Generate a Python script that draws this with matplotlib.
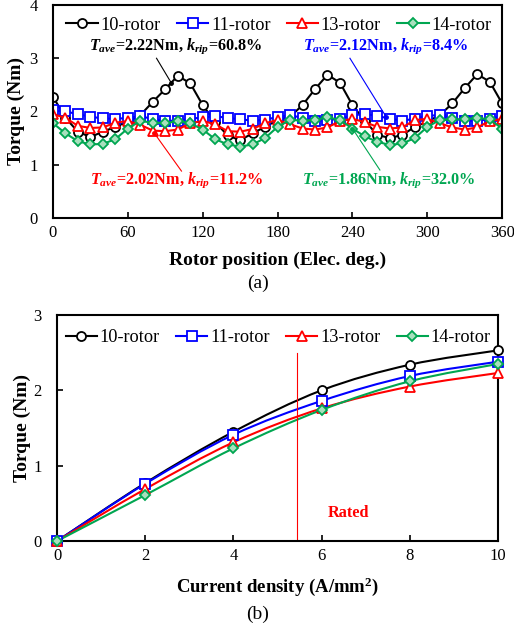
import numpy as np
import matplotlib
matplotlib.use("Agg")
import matplotlib.pyplot as plt
from matplotlib.path import Path
from matplotlib.patches import PathPatch
from matplotlib.lines import Line2D

plt.rcParams['font.family'] = 'Liberation Serif'
plt.rcParams['mathtext.fontset'] = 'custom'
plt.rcParams['mathtext.rm'] = 'Liberation Serif:bold'
plt.rcParams['mathtext.it'] = 'Liberation Serif:bold:italic'
plt.rcParams['mathtext.bf'] = 'Liberation Serif:bold'

# ---- data, panel (a): torque vs rotor position ----
position = list(range(0, 361, 10))
torque_10 = [2.28, 1.88, 1.62, 1.52, 1.62, 1.71, 1.81, 1.93, 2.18, 2.42, 2.67, 2.53, 2.12,
             1.80, 1.55, 1.46, 1.59, 1.71, 1.84, 1.90, 2.12, 2.42, 2.69, 2.54, 2.12,
             1.82, 1.56, 1.50, 1.56, 1.71, 1.81, 1.93, 2.15, 2.44, 2.70, 2.56, 2.15]
torque_11 = [2.02, 2.00, 1.95, 1.90, 1.87, 1.86, 1.88, 1.91, 1.86, 1.82, 1.83, 1.86, 1.89,
             1.91, 1.88, 1.85, 1.83, 1.84, 1.90, 1.93, 1.88, 1.82, 1.84, 1.86, 1.93,
             1.95, 1.92, 1.86, 1.83, 1.86, 1.92, 1.93, 1.88, 1.82, 1.83, 1.85, 1.92]
torque_13 = [1.95, 1.88, 1.73, 1.69, 1.70, 1.79, 1.82, 1.75, 1.64, 1.63, 1.66, 1.78, 1.82,
             1.76, 1.63, 1.62, 1.67, 1.78, 1.84, 1.76, 1.68, 1.66, 1.70, 1.82, 1.86,
             1.80, 1.71, 1.68, 1.70, 1.84, 1.86, 1.78, 1.70, 1.66, 1.70, 1.82, 1.86]
torque_14 = [1.78, 1.59, 1.44, 1.38, 1.39, 1.48, 1.68, 1.82, 1.79, 1.78, 1.82, 1.78, 1.66,
             1.48, 1.38, 1.34, 1.38, 1.50, 1.71, 1.84, 1.83, 1.84, 1.89, 1.84, 1.68,
             1.53, 1.43, 1.37, 1.40, 1.50, 1.71, 1.84, 1.85, 1.85, 1.88, 1.85, 1.68]

# ---- data, panel (b): torque vs current density ----
current = [0, 2, 4, 6, 8, 10]
curve_10 = [0, 0.77, 1.45, 2.00, 2.34, 2.53]
curve_11 = [0, 0.76, 1.41, 1.86, 2.19, 2.38]
curve_13 = [0, 0.69, 1.31, 1.76, 2.05, 2.23]
curve_14 = [0, 0.61, 1.23, 1.74, 2.12, 2.35]
rated_current = 5.43

labels = ['10-rotor', '11-rotor', '13-rotor', '14-rotor']
colors = ['black', '#0000ff', '#ff0000', '#00a651']
markers = ['o', 's', '^', 'D']
faces = ['white', 'white', 'white', '#a8e0bd']
msizes = [6.5, 6.5, 6.5, 5]

fig = plt.figure(figsize=(5.14, 6.28), dpi=100)
ax1 = fig.add_axes([0.103, 0.653, 0.874, 0.339])
ax2 = fig.add_axes([0.111, 0.1385, 0.858, 0.36])


def style_axes(ax):
    for s in ax.spines.values():
        s.set_linewidth(1.5)
    ax.tick_params(axis='x', direction='in', length=4, width=1.2, labelsize=12, pad=5)
    ax.tick_params(axis='y', direction='in', length=4, width=1.2, labelsize=12, pad=11)


leg_kw = dict(loc='center', ncol=4, frameon=False, fontsize=13.2, handlelength=1.7,
              handletextpad=0.15, columnspacing=0.9)

# panel (a)
for y, lab, c, m, fc, ms in zip([torque_10, torque_11, torque_13, torque_14],
                                labels, colors, markers, faces, msizes):
    ax1.plot(position, y, color=c, lw=1.5, marker=m, ms=ms, mfc=fc, mec=c,
             mew=1.3, label=lab)
ax1.set_xlim(0, 360)
ax1.set_ylim(0, 4)
ax1.set_xticks(range(0, 361, 60))
ax1.set_yticks(range(0, 5))
style_axes(ax1)
ax1.set_xlabel('Rotor position (Elec. deg.)', fontsize=14, fontweight='bold', labelpad=8)
ax1.set_ylabel('Torque (Nm)', fontsize=14, fontweight='bold', labelpad=3)
ax1.legend(bbox_to_anchor=(0.503, 0.905), **leg_kw)

notes = [(r'$T_{ave}$=2.22Nm, $k_{rip}$=60.8%', 'black', (98, 3.23), (83, 3.0), (95, 2.53)),
         (r'$T_{ave}$=2.12Nm, $k_{rip}$=8.4%', '#0000ff', (267, 3.23), (238, 3.0), (267, 1.90)),
         (r'$T_{ave}$=2.02Nm, $k_{rip}$=11.2%', '#ff0000', (99, 0.71), (103, 0.88), (81, 1.60)),
         (r'$T_{ave}$=1.86Nm, $k_{rip}$=32.0%', '#00a651', (269, 0.71), (262, 0.90), (240, 1.68))]
for txt, c, tpos, p0, p1 in notes:
    ax1.text(tpos[0], tpos[1], txt, color=c, fontsize=11.7, fontweight='bold',
             ha='center', va='center')
    ax1.plot([p0[0], p1[0]], [p0[1], p1[1]], color=c, lw=0.8)
    ax1.plot(p1[0], p1[1], 'o', color=c, ms=2.5)


# panel (b) - smoothed lines like a spreadsheet chart
def smooth_path(x, y):
    pts = np.column_stack([x, y]).astype(float)
    verts = [pts[0]]
    codes = [Path.MOVETO]
    n = len(pts)
    for i in range(n - 1):
        p0 = pts[max(i - 1, 0)]
        p1 = pts[i]
        p2 = pts[i + 1]
        p3 = pts[min(i + 2, n - 1)]
        c1 = p1 + (p2 - p0) / 6.0
        c2 = p2 - (p3 - p1) / 6.0
        verts += [c1, c2, p2]
        codes += [Path.CURVE4] * 3
    return Path(verts, codes)


handles = []
for y, lab, c, m, fc, ms in zip([curve_10, curve_11, curve_13, curve_14],
                                labels, colors, markers, faces, msizes):
    ax2.add_patch(PathPatch(smooth_path(current, y), facecolor='none', edgecolor=c, lw=1.5))
    ax2.plot(current, y, ls='none', marker=m, ms=ms, mfc=fc, mec=c, mew=1.3, clip_on=False, zorder=3)
    handles.append(Line2D([], [], color=c, lw=1.5, marker=m, ms=ms, mfc=fc, mec=c, mew=1.3, label=lab))

ax2.plot([rated_current, rated_current], [0, 2.5], color='#ff0000', lw=0.8)
ax2.text(6.6, 0.37, 'Rated', color='#ff0000', fontsize=11.7, fontweight='bold',
         ha='center', va='center')
ax2.set_xlim(0, 10)
ax2.set_ylim(0, 3)
ax2.set_xticks(range(0, 11, 2))
ax2.set_yticks(range(0, 4))
style_axes(ax2)
ax2.set_xlabel(r'Current density (A/mm$^{2}$)', fontsize=13.5, fontweight='bold', labelpad=8)
ax2.set_ylabel('Torque (Nm)', fontsize=14, fontweight='bold', labelpad=2)
ax2.legend(handles=handles, bbox_to_anchor=(0.501, 0.9), **leg_kw)

fig.text(0.502, 1 - 283 / 628, '(a)', ha='center', va='center', fontsize=14)
fig.text(0.502, 1 - 614 / 628, '(b)', ha='center', va='center', fontsize=14)

fig.savefig('out.png', dpi=100)
